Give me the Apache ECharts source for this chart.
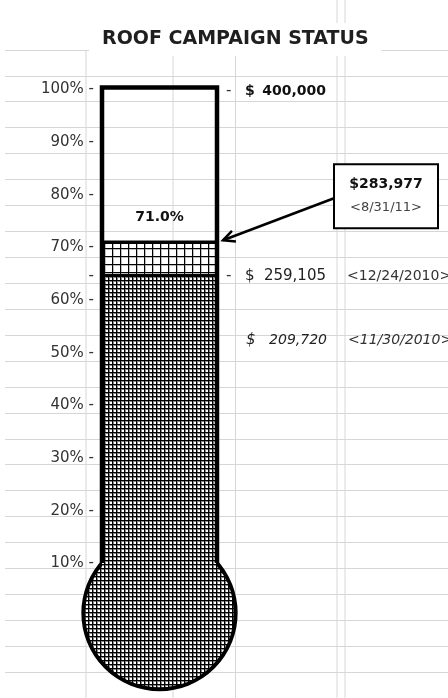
<!DOCTYPE html>
<html>
<head>
<meta charset="utf-8">
<title>Roof Campaign Status</title>
<script src="https://cdn.jsdelivr.net/npm/echarts@6/dist/echarts.min.js"></script>
<style>
  html, body { margin: 0; padding: 0; background: #fff; }
  #chart { width: 448px; height: 698px; }
</style>
</head>
<body>
<div id="chart"></div>
<script>
// campaign numbers
const goal = 400000
const amounts = [209720, 259105, 283977]
const amountDates = ['<11/30/2010>', '<12/24/2010>', '<8/31/11>']
const percentMin = 0
const percentMax = 100
const percentStep = 10

// spreadsheet background (cell borders)
const sheetColumns = [[86, 0], [173, 0], [235.5, 0], [337, 1], [345, 1]]
const sheetRows = 25

const FONT = 'DejaVu Sans'
const levels = amounts.map(a => a / goal * 100)

// crosshatch fill like the excel pattern fills
function gridPattern(cell, edge) {
  const c = document.createElement('canvas')
  c.width = c.height = cell
  const ctx = c.getContext('2d')
  ctx.fillStyle = '#fff'
  ctx.fillRect(0, 0, cell, cell)
  ctx.fillStyle = edge
  ctx.fillRect(0, 1, cell, 1)
  ctx.fillRect(1, 0, 1, cell)
  ctx.fillStyle = '#000'
  ctx.fillRect(0, 0, cell, 1)
  ctx.fillRect(0, 0, 1, cell)
  return { image: c, repeat: 'repeat' }
}
const finePattern = gridPattern(4, '#888')
const coarsePattern = gridPattern(8, '#bbb')

function fmtMoney(v) {
  return v.toLocaleString('en-US')
}

const chart = echarts.init(document.getElementById('chart'))

function renderSheetColumn(params, api) {
  const x = api.value(0)
  const top = api.value(1) ? 0 : api.coord([x, sheetRows])[1]
  const bottom = api.coord([x, 0])[1]
  const px = api.coord([x, 0])[0]
  return {
    type: 'line',
    shape: { x1: px, y1: top, x2: px, y2: bottom },
    style: { stroke: '#d6d6d6', lineWidth: 1 }
  }
}

function renderThermometer(params, api) {
  const fineTop = api.value(0)
  const raisedTop = api.value(1)
  const xl = api.coord([-1, 0])[0]
  const [xr, y0] = api.coord([1, 0])
  const cx = (xl + xr) / 2
  const yTop = api.coord([0, percentMax])[1]
  const yFine = api.coord([0, fineTop])[1]
  const yRaised = api.coord([0, raisedTop])[1]
  const r = api.size([1, 0])[0] * 1.28
  const cy = y0 - 3
  const wl = xl + 2
  const wr = xr - 2
  const half = wr - cx
  const yJoin = cy - Math.sqrt(r * r - half * half)

  return {
    type: 'group',
    children: [
      { type: 'circle', shape: { cx, cy, r }, style: { fill: finePattern, stroke: '#000', lineWidth: 4 } },
      { type: 'rect', shape: { x: wl, y: yFine, width: wr - wl, height: cy - yFine }, style: { fill: finePattern } },
      { type: 'rect', shape: { x: wl, y: yRaised, width: wr - wl, height: yFine - yRaised }, style: { fill: coarsePattern } },
      { type: 'line', shape: { x1: wl, y1: yFine, x2: wr, y2: yFine }, style: { stroke: '#000', lineWidth: 2 } },
      { type: 'line', shape: { x1: wl, y1: yRaised, x2: wr, y2: yRaised }, style: { stroke: '#000', lineWidth: 3.5 } },
      {
        type: 'polyline',
        shape: { points: [[wl, yJoin], [wl, yTop - 2], [wr, yTop - 2], [wr, yJoin]] },
        style: { stroke: '#000', lineWidth: 4.5, fill: null, lineJoin: 'miter' }
      },
      {
        type: 'text',
        style: {
          text: raisedTop.toFixed(1) + '%', x: cx, y: yRaised - 25,
          align: 'center', verticalAlign: 'middle',
          font: 'bold 14px "' + FONT + '"', fill: '#111'
        }
      }
    ]
  }
}

function txt(text, x, y, align, font, color) {
  return {
    type: 'text',
    style: { text, x, y, align, verticalAlign: 'middle', font: font + ' "' + FONT + '"', fill: color }
  }
}

function renderNotes(params, api) {
  const xl = api.coord([-1, 0])[0]
  const xr = api.coord([1, 0])[0]
  const yGoal = api.coord([0, percentMax])[1] + 2
  const y0 = api.coord([0, levels[0]])[1]
  const y1 = api.coord([0, levels[1]])[1]
  const yLast = api.coord([0, levels[2]])[1]
  const out = []

  // goal line
  out.push(txt('-', xr + 7, yGoal, 'left', '15px', '#333'))
  out.push(txt('$', xr + 26, yGoal, 'left', 'bold 14px', '#111'))
  out.push(txt(fmtMoney(goal), xr + 107, yGoal, 'right', 'bold 14px', '#111'))

  // previous total
  out.push(txt('-', xl - 6, y1 + 1, 'right', '15px', '#333'))
  out.push(txt('-', xr + 7, y1 + 1, 'left', '15px', '#333'))
  out.push(txt('$', xr + 26, y1 + 1, 'left', '15px', '#222'))
  out.push(txt(fmtMoney(amounts[1]), xr + 107, y1 + 1, 'right', '15px', '#222'))
  out.push(txt(amountDates[1], xr + 128, y1 + 1, 'left', '14px', '#333'))

  // older total
  out.push(txt('$', xr + 27, y0, 'left', 'italic 15px', '#222'))
  out.push(txt(fmtMoney(amounts[0]), xr + 108, y0, 'right', 'italic 14px', '#222'))
  out.push(txt(amountDates[0], xr + 129, y0, 'left', 'italic 14px', '#333'))

  // callout for latest total
  const tipX = xr + 4
  const tipY = yLast - 2
  const boxX = tipX + 111
  const boxY = tipY - 76
  const boxW = 104
  const boxH = 64
  const sx = boxX
  const sy = tipY - 42
  const len = Math.hypot(sx - tipX, sy - tipY)
  const dx = (sx - tipX) / len
  const dy = (sy - tipY) / len
  const wing = (a) => [
    tipX + 13 * (dx * Math.cos(a) - dy * Math.sin(a)),
    tipY + 13 * (dx * Math.sin(a) + dy * Math.cos(a))
  ]
  out.push({ type: 'line', shape: { x1: sx, y1: sy, x2: tipX, y2: tipY }, style: { stroke: '#000', lineWidth: 2.5 } })
  out.push({
    type: 'polyline',
    shape: { points: [wing(0.45), [tipX, tipY], wing(-0.45)] },
    style: { stroke: '#000', lineWidth: 2.5, fill: null }
  })
  out.push({
    type: 'rect',
    shape: { x: boxX, y: boxY, width: boxW, height: boxH },
    style: { fill: '#fff', stroke: '#000', lineWidth: 2 }
  })
  out.push(txt('$' + fmtMoney(amounts[2]), boxX + boxW / 2, boxY + 20, 'center', 'bold 14px', '#111'))
  out.push(txt(amountDates[2], boxX + boxW / 2, boxY + 43, 'center', '13px', '#444'))

  return { type: 'group', children: out }
}

const option = {
  animation: false,
  backgroundColor: '#fff',
  title: {
    text: 'ROOF CAMPAIGN STATUS',
    left: 89,
    top: 23,
    padding: [7, 13],
    backgroundColor: '#fff',
    textStyle: { fontFamily: FONT, fontSize: 19, fontWeight: 'bold', color: '#1f1f1f' }
  },
  grid: [
    { left: 5, right: 0, top: 49.9, bottom: -9.9 },
    { left: 100, right: 229, top: 89.6, bottom: 82 }
  ],
  xAxis: [
    { gridIndex: 0, type: 'value', min: 5, max: 448, show: false },
    { gridIndex: 1, type: 'value', min: -1, max: 1, show: false }
  ],
  yAxis: [
    {
      gridIndex: 0, type: 'value', min: 0, max: sheetRows, interval: 1,
      axisLine: { show: false }, axisTick: { show: false }, axisLabel: { show: false },
      splitLine: { show: true, lineStyle: { color: '#d6d6d6', width: 1 } }
    },
    {
      gridIndex: 1, type: 'value', min: percentMin, max: percentMax, interval: percentStep,
      axisLine: { show: false }, axisTick: { show: false }, splitLine: { show: false },
      axisLabel: {
        margin: 6,
        padding: [5, 0, 0, 0],
        fontFamily: FONT,
        fontSize: 15,
        color: '#333',
        formatter: v => (v === 0 ? '' : v + '% -')
      }
    }
  ],
  series: [
    {
      type: 'custom',
      xAxisIndex: 0,
      yAxisIndex: 0,
      silent: true,
      data: sheetColumns,
      renderItem: renderSheetColumn,
      z: 1
    },
    {
      type: 'custom',
      xAxisIndex: 1,
      yAxisIndex: 1,
      silent: true,
      data: [[levels[1], levels[2]]],
      renderItem: renderThermometer,
      z: 3
    },
    {
      type: 'custom',
      xAxisIndex: 1,
      yAxisIndex: 1,
      silent: true,
      data: [[0]],
      renderItem: renderNotes,
      z: 4
    }
  ]
}

chart.setOption(option)
</script>
</body>
</html>
